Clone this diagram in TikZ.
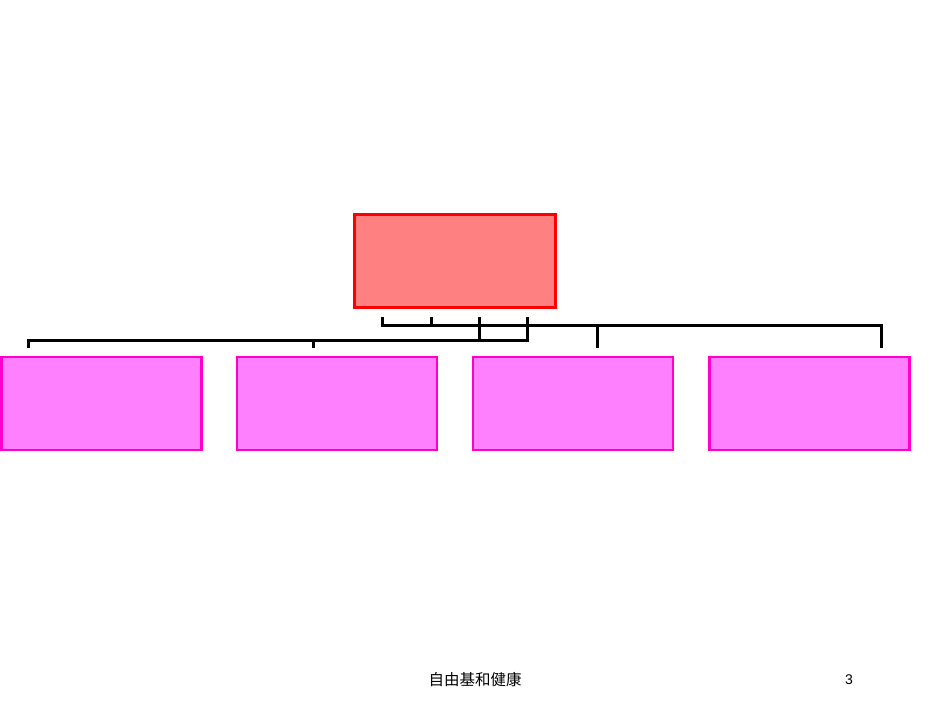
\documentclass[tikz,border=0pt]{standalone}
\usepackage{fontspec}
\setmainfont{Liberation Sans}
\newfontfamily\cjk{Noto Sans CJK SC}
\definecolor{topfill}{HTML}{FF8080}
\definecolor{topline}{HTML}{FF0000}
\definecolor{subfill}{HTML}{FF80FF}
\definecolor{subline}{HTML}{FF00CC}
\begin{document}
\begin{tikzpicture}[x=1pt,y=-1pt,
  topbox/.style={draw=topline,fill=topfill,line width=2.5pt,minimum width=201pt,minimum height=93pt,inner sep=0pt,outer sep=0pt,anchor=north west},
  subbox/.style={draw=subline,fill=subfill,line width=2.5pt,minimum width=200pt,minimum height=93pt,inner sep=0pt,outer sep=0pt,anchor=north west},
  conn/.style={draw=black,line width=3pt}]
\useasboundingbox (0,0) rectangle (950,713);
\node[topbox] (top) at (354.5,214.5) {};
\node[subbox] (b1) at (1.5,357) {};
\node[subbox] (b2) at (237,357) {};
\node[subbox] (b3) at (473,357) {};
\node[subbox] (b4) at (709.5,357) {};
% connector start points
\coordinate (s1) at (382,317);
\coordinate (s2) at (431,317);
\coordinate (s3) at (479,317);
\coordinate (s4) at (527,317);
\coordinate (e4) at (881,348);
\coordinate (e3) at (597,348);
\coordinate (e2) at (313,348);
\coordinate (e1) at (28,348);
\draw[conn] (s1) -- (s1 |- 0,325) -- (e4 |- 0,325) -- (e4);
\draw[conn] (s2) -- (s2 |- 0,325) -- (e3 |- 0,325) -- (e3);
\draw[conn] (s3) -- (s3 |- 0,340) -- (e2 |- 0,340) -- (e2);
\draw[conn] (s4) -- (s4 |- 0,340) -- (e1 |- 0,340) -- (e1);
\node (foot) at (475,680) {\cjk\fontsize{15.5}{18}\selectfont 自由基和健康};
\node (page) at (849,680) {\fontsize{14}{16}\selectfont 3};
\end{tikzpicture}
\end{document}
